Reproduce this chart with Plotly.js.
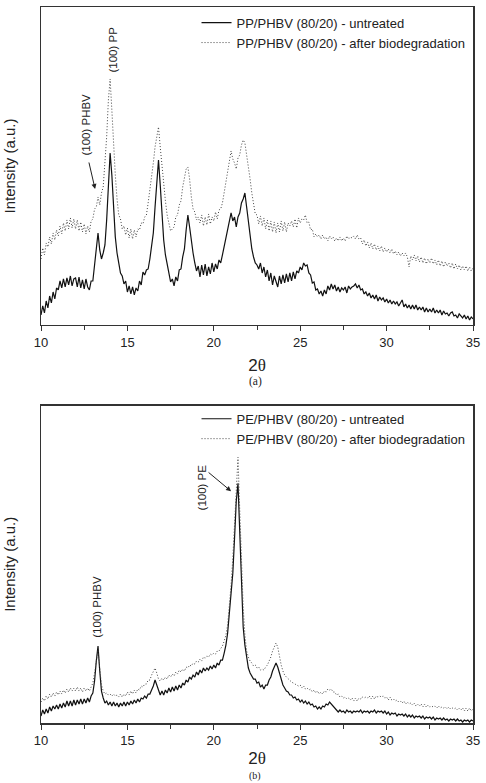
<!DOCTYPE html>
<html>
<head>
<meta charset="utf-8">
<script src="https://cdn.plot.ly/plotly-3.0.1.min.js"></script>
<style>
  html, body { margin: 0; padding: 0; background: #fff; }
  #chart { width: 486px; height: 783px; }
</style>
</head>
<body>
<div id="chart"></div>
<script>
// XRD scans, 2θ from 10° to 35° in 0.1° steps (one row per degree)
const scanStart = 10;
const scanStep = 0.1;

// (a) PP/PHBV (80/20)
const ppUntreated = [
  10, 19, 12, 24, 17, 29, 22, 33, 26, 37,
  35, 44, 37, 46, 38, 47, 40, 49, 39, 46,
  47, 38, 48, 37, 45, 36, 46, 38, 35, 44,
  44, 62, 80, 92, 75, 66, 72, 80, 105, 140,
  172, 150, 118, 88, 72, 60, 52, 49, 41, 44,
  33, 39, 31, 38, 30, 37, 34, 44, 40, 53,
  50, 55, 56, 66, 78, 92, 118, 148, 165, 140,
  108, 85, 70, 60, 50, 43, 46, 39, 48, 44,
  55, 56, 68, 76, 95, 110, 98, 82, 72, 62,
  54, 59, 48, 60, 50, 61, 49, 58, 51, 62,
  53, 61, 56, 65, 62, 70, 78, 88, 97, 105,
  112, 104, 108, 98, 108, 112, 122, 126, 132, 118,
  102, 88, 76, 68, 62, 60, 56, 62, 52, 58,
  48, 55, 44, 52, 40, 49, 44, 38, 49, 41,
  50, 42, 51, 43, 52, 44, 53, 46, 54, 52,
  58, 55, 62, 59, 60, 52, 50, 42, 43, 35,
  36, 31, 34, 29, 35, 31, 39, 35, 41, 36,
  40, 34, 38, 33, 37, 35, 38, 32, 39, 36,
  38, 39, 41, 37, 40, 35, 36, 31, 33, 29,
  32, 27, 30, 26, 30, 24, 28, 25, 27, 23,
  26, 22, 25, 21, 24, 21, 23, 19, 22, 25,
  18, 21, 17, 20, 16, 20, 16, 20, 15, 18,
  15, 18, 13, 17, 13, 16, 13, 17, 12, 15,
  12, 15, 10, 14, 11, 12, 9, 12, 13, 9,
  10, 7, 11, 9, 7, 10, 6, 9, 5, 8,
  6
];

const ppBiodegraded = [
  66, 77, 70, 82, 78, 88, 81, 92, 85, 95,
  89, 99, 91, 102, 94, 105, 96, 107, 97, 106,
  96, 105, 94, 103, 93, 101, 91, 99, 93, 104,
  106, 116, 118, 128, 120, 132, 138, 160, 188, 225,
  246, 215, 178, 150, 126, 110, 106, 96, 99, 90,
  97, 87, 96, 86, 95, 88, 96, 95, 102, 101,
  108, 110, 122, 134, 148, 162, 178, 190, 198, 178,
  158, 140, 124, 110, 100, 94, 96, 98, 108, 110,
  120, 124, 138, 148, 156, 158, 146, 128, 116, 113,
  105, 108, 102, 110, 99, 108, 100, 111, 101, 108,
  104, 113, 106, 115, 116, 122, 132, 142, 152, 163,
  174, 166, 162, 156, 167, 170, 180, 185, 182, 170,
  160, 146, 132, 120, 111, 110, 101, 109, 99, 107,
  96, 105, 94, 104, 93, 103, 92, 102, 93, 104,
  94, 103, 93, 102, 99, 104, 98, 106, 97, 107,
  102, 106, 105, 110, 102, 103, 95, 96, 88, 91,
  88, 90, 86, 90, 86, 88, 84, 89, 86, 88,
  84, 87, 84, 88, 84, 87, 84, 89, 86, 88,
  87, 89, 86, 90, 86, 87, 81, 85, 79, 83,
  77, 82, 76, 81, 75, 79, 74, 79, 73, 77,
  73, 76, 72, 76, 71, 74, 70, 73, 69, 72,
  69, 72, 68, 58, 69, 65, 70, 64, 69, 63,
  68, 62, 67, 61, 66, 62, 67, 61, 65, 60,
  65, 59, 64, 58, 63, 59, 62, 57, 62, 56,
  61, 56, 60, 55, 59, 55, 59, 54, 58, 54,
  57
];

// (b) PE/PHBV (80/20)
const peUntreated = [
  7, 13, 9, 14, 10, 16, 12, 17, 14, 18,
  14, 19, 15, 20, 16, 22, 17, 22, 17, 23,
  18, 23, 19, 24, 19, 24, 20, 25, 21, 27,
  30, 42, 62, 77, 52, 32, 25, 20, 22, 18,
  21, 17, 21, 17, 20, 16, 20, 17, 21, 17,
  21, 18, 22, 19, 23, 20, 24, 21, 25, 24,
  27, 25, 29, 29, 33, 37, 43, 38, 31, 28,
  32, 28, 33, 30, 35, 31, 36, 32, 37, 33,
  38, 35, 40, 38, 43, 41, 46, 44, 48, 46,
  51, 48, 53, 50, 55, 52, 55, 53, 57, 54,
  58, 55, 60, 58, 63, 63, 70, 78, 90, 108,
  125, 150, 185, 222, 240, 190, 130, 96, 78, 64,
  55, 50, 47, 44, 44, 40, 41, 36, 38, 34,
  38, 38, 43, 46, 52, 57, 60, 56, 49, 43,
  38, 35, 32, 31, 28, 28, 25, 26, 23, 24,
  21, 23, 20, 22, 19, 21, 18, 19, 16, 17,
  14, 16, 14, 17, 16, 19, 18, 21, 19, 17,
  14, 13, 11, 13, 11, 12, 10, 13, 11, 12,
  10, 12, 11, 12, 11, 13, 10, 12, 11, 12,
  10, 12, 11, 13, 10, 12, 11, 12, 10, 12,
  9, 11, 8, 10, 9, 10, 7, 9, 8, 9,
  7, 9, 6, 8, 6, 8, 5, 7, 6, 7,
  5, 7, 4, 6, 5, 6, 4, 6, 3, 5,
  4, 5, 3, 5, 3, 4, 2, 4, 3, 4,
  2, 4, 2, 3, 1, 3, 2, 3, 1, 3,
  2
];

const peBiodegraded = [
  21, 25, 22, 27, 24, 29, 26, 30, 27, 31,
  28, 32, 29, 33, 30, 34, 31, 35, 32, 35,
  32, 36, 32, 35, 31, 35, 32, 35, 32, 37,
  40, 50, 64, 73, 55, 38, 32, 29, 30, 28,
  29, 27, 29, 27, 28, 26, 29, 26, 29, 27,
  31, 28, 32, 29, 33, 30, 34, 33, 37, 36,
  39, 39, 43, 43, 48, 51, 55, 50, 44, 42,
  45, 43, 46, 44, 48, 46, 49, 47, 51, 49,
  53, 51, 54, 52, 56, 55, 58, 57, 60, 59,
  62, 61, 64, 62, 66, 65, 67, 66, 69, 68,
  70, 69, 72, 72, 75, 77, 82, 88, 98, 116,
  138, 165, 200, 242, 266, 214, 152, 116, 88, 72,
  66, 62, 60, 57, 58, 55, 56, 53, 54, 53,
  56, 58, 62, 66, 72, 77, 80, 76, 66, 58,
  52, 48, 46, 44, 42, 41, 40, 39, 38, 37,
  38, 35, 37, 34, 35, 33, 34, 31, 33, 30,
  32, 29, 31, 29, 32, 31, 34, 33, 34, 31,
  31, 28, 29, 26, 27, 25, 26, 24, 25, 23,
  25, 22, 25, 22, 25, 24, 26, 25, 26, 25,
  27, 24, 27, 24, 27, 26, 27, 26, 27, 25,
  26, 23, 26, 23, 24, 22, 23, 21, 22, 20,
  22, 19, 21, 19, 20, 18, 20, 17, 19, 17,
  19, 16, 19, 16, 18, 16, 17, 16, 17, 15,
  17, 15, 16, 15, 16, 14, 16, 14, 15, 14,
  15, 13, 15, 13, 15, 12, 15, 12, 15, 12,
  14
];

const seriesNames = {
  ppUntreated: 'PP/PHBV (80/20) - untreated',
  ppBiodegraded: 'PP/PHBV (80/20) - after biodegradation',
  peUntreated: 'PE/PHBV (80/20) - untreated',
  peBiodegraded: 'PE/PHBV (80/20) - after biodegradation'
};

const xTickValues = [10, 15, 20, 25, 30, 35];

// scan grid shared by all four patterns
const twoTheta = ppUntreated.map((_, i) => +(scanStart + i * scanStep).toFixed(1));

const FONT = 'Liberation Sans, Arial, sans-serif';
const SERIF = 'Liberation Serif, Times New Roman, serif';
const solidLine = { color: '#111111', width: 1.2 };
const dottedLine = { color: '#444444', width: 1, dash: '1px,2px' };

const traces = [
  { x: twoTheta, y: ppUntreated, name: seriesNames.ppUntreated, xaxis: 'x', yaxis: 'y',
    type: 'scatter', mode: 'lines', line: solidLine, legend: 'legend' },
  { x: twoTheta, y: ppBiodegraded, name: seriesNames.ppBiodegraded, xaxis: 'x', yaxis: 'y',
    type: 'scatter', mode: 'lines', line: dottedLine, legend: 'legend' },
  { x: twoTheta, y: peUntreated, name: seriesNames.peUntreated, xaxis: 'x2', yaxis: 'y2',
    type: 'scatter', mode: 'lines', line: solidLine, legend: 'legend2' },
  { x: twoTheta, y: peBiodegraded, name: seriesNames.peBiodegraded, xaxis: 'x2', yaxis: 'y2',
    type: 'scatter', mode: 'lines', line: dottedLine, legend: 'legend2' }
];

function xAxis(anchor, standoff) {
  return {
    anchor: anchor,
    range: [10, 35],
    tickvals: xTickValues,
    ticks: 'outside', ticklen: 5, tickwidth: 1, tickcolor: '#333',
    minor: { dtick: 2.5, tick0: 10, ticks: 'outside', ticklen: 4, tickcolor: '#333', showgrid: false },
    showline: true, mirror: true, linecolor: '#333', linewidth: 1.5,
    showgrid: false, zeroline: false,
    tickfont: { family: FONT, size: 13, color: '#222' },
    title: { text: '2<span style="font-family:' + SERIF + '">θ</span>',
             font: { family: FONT, size: 17, color: '#222' }, standoff: standoff },
    automargin: false
  };
}

function yAxis(domain, top) {
  return {
    domain: domain,
    range: [0, top],
    showticklabels: false, ticks: '',
    showline: true, mirror: true, linecolor: '#333', linewidth: 1.5,
    showgrid: false, zeroline: false,
    title: { text: 'Intensity (a.u.)', font: { family: FONT, size: 15, color: '#222' }, standoff: 20 },
    automargin: false
  };
}

const legendBase = {
  font: { family: FONT, size: 13, color: '#222' },
  bgcolor: 'rgba(0,0,0,0)', borderwidth: 0,
  xanchor: 'left', yanchor: 'top', tracegroupgap: 0
};

const labelFont = { family: FONT, size: 11.5, color: '#222' };

const layout = {
  width: 486, height: 783,
  margin: { l: 41, r: 13, t: 7, b: 60 },
  paper_bgcolor: '#fff', plot_bgcolor: '#fff',
  showlegend: true,
  xaxis: xAxis('y', 10),
  yaxis: yAxis([0.5559, 1], 318),
  xaxis2: xAxis('y2', 5),
  yaxis2: yAxis([0, 0.4432], 317.6),
  legend: Object.assign({ x: 0.36, y: 0.999 }, legendBase),
  legend2: Object.assign({ x: 0.36, y: 0.4458 }, legendBase),
  annotations: [
    // peak labels, panel (a)
    { xref: 'x', yref: 'y', x: 14.14, y: 275, text: '(100) PP', textangle: -90,
      showarrow: false, font: labelFont },
    { xref: 'x', yref: 'y', x: 12.58, y: 200, text: '(100) PHBV', textangle: -90,
      showarrow: false, font: labelFont },
    { xref: 'x', yref: 'y', x: 13.13, y: 136, text: '', showarrow: true,
      ax: -6.5, ay: -28, arrowhead: 2, arrowsize: 1, arrowwidth: 1, arrowcolor: '#222' },
    // peak labels, panel (b)
    { xref: 'x2', yref: 'y2', x: 19.33, y: 236, text: '(100) PE', textangle: -90,
      showarrow: false, font: labelFont },
    { xref: 'x2', yref: 'y2', x: 13.22, y: 116, text: '(100) PHBV', textangle: -90,
      showarrow: false, font: labelFont },
    { xref: 'x2', yref: 'y2', x: 21.0, y: 232, text: '', showarrow: true,
      ax: -24, ay: -20, arrowhead: 2, arrowsize: 1, arrowwidth: 1, arrowcolor: '#222' },
    // panel captions
    { xref: 'paper', yref: 'paper', x: 0.496, y: 0.4767, text: '(a)', showarrow: false,
      font: { family: SERIF, size: 11.5, color: '#222' } },
    { xref: 'paper', yref: 'paper', x: 0.496, y: -0.0838, yanchor: 'bottom', text: '(b)',
      showarrow: false, borderpad: 0, font: { family: SERIF, size: 10, color: '#222' } }
  ]
};

Plotly.newPlot('chart', traces, layout, { staticPlot: true, displayModeBar: false });
</script>
</body>
</html>
